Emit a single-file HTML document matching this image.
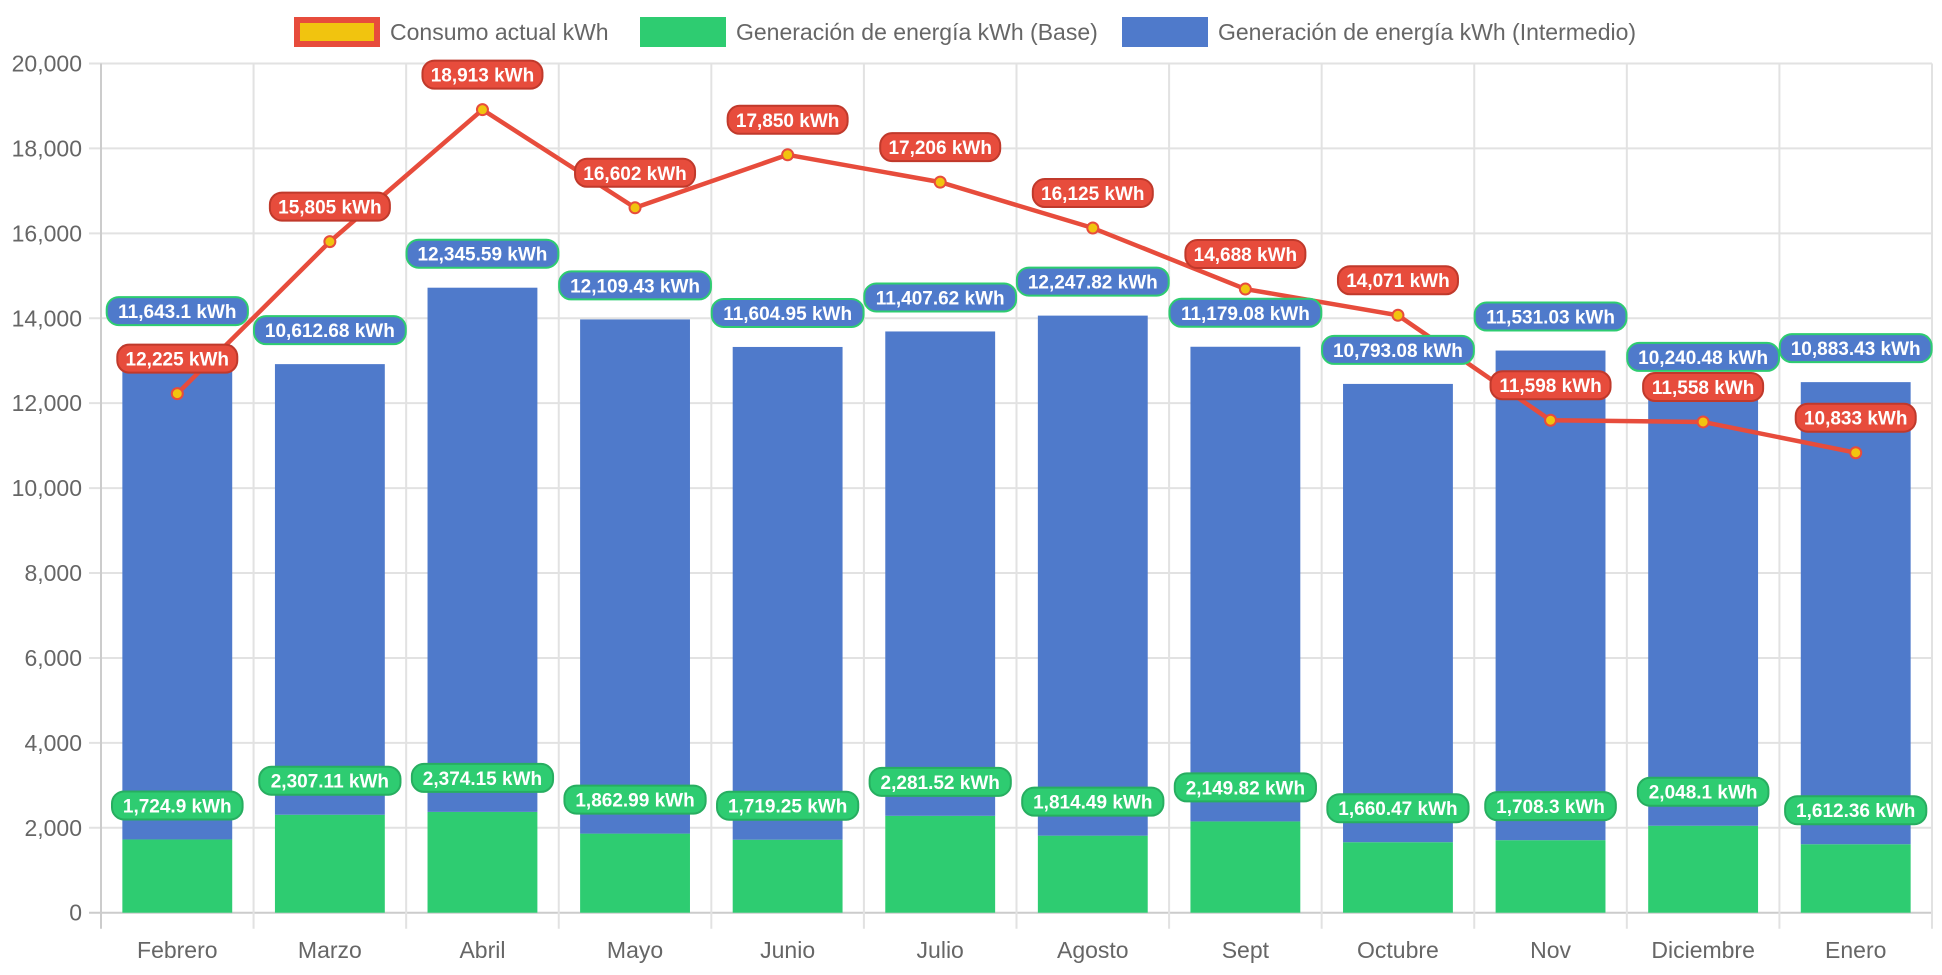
<!DOCTYPE html>
<html><head><meta charset="utf-8"><style>
body{margin:0;background:#fff;font-family:"Liberation Sans",Arial,sans-serif}
svg text{font-family:"Liberation Sans",Arial,sans-serif}
</style></head><body>
<svg id="c" width="1942" height="970"></svg>
<script>
const categories=["Febrero","Marzo","Abril","Mayo","Junio","Julio","Agosto","Sept","Octubre","Nov","Diciembre","Enero"];
const baseGen=[1724.9,2307.11,2374.15,1862.99,1719.25,2281.52,1814.49,2149.82,1660.47,1708.3,2048.1,1612.36];
const interGen=[11643.1,10612.68,12345.59,12109.43,11604.95,11407.62,12247.82,11179.08,10793.08,11531.03,10240.48,10883.43];
const consumo=[12225,15805,18913,16602,17850,17206,16125,14688,14071,11598,11558,10833];
const yTicks=[0,2000,4000,6000,8000,10000,12000,14000,16000,18000,20000];
const NS="http://www.w3.org/2000/svg";
const svg=document.getElementById('c');
const L=101,R=1932,T=63.5,B=912.7,yMax=20000;
const bw=(R-L)/categories.length;
const y=v=>B-v/yMax*(B-T);
const x=i=>L+bw*(i+0.5);
function mk(t,a,p){const e=document.createElementNS(NS,t);for(const k in a)e.setAttribute(k,a[k]);(p||svg).appendChild(e);return e;}
const fmt=v=>v.toLocaleString('en-US',{maximumFractionDigits:2})+' kWh';
yTicks.forEach(v=>{
 const g=mk('line',{x1:L-12,x2:R,y1:y(v),y2:y(v),stroke:v===0?'#ccc':'#e2e2e2','stroke-width':2});
 
 
 const t=mk('text',{x:L-19,y:y(v)+8,'text-anchor':'end','font-size':23,fill:'#666'});
 t.textContent=v.toLocaleString('en-US');
 
 
});
for(let i=0;i<=categories.length;i++){
 const g=mk('line',{x1:L+bw*i,x2:L+bw*i,y1:T,y2:B+16,stroke:i===0?'#ccc':'#e2e2e2','stroke-width':2});
 
 
}
categories.forEach((c,i)=>{
 const t=mk('text',{x:x(i),y:958,'text-anchor':'middle','font-size':23,fill:'#666'});
 t.textContent=c;
 
 
});
const barW=bw*0.72;
function pill(cx,cy,txt,bg,bd){
 const g=mk('g',{});
 
 
 const t=mk('text',{x:cx,y:cy+7,'text-anchor':'middle','font-size':19,'font-weight':'bold',fill:'#fff'},g);
 t.textContent=txt;
 const w=txt.length*10.6+14;
 const r=mk('rect',{x:cx-w/2,y:cy-14,width:w,height:28,rx:12,fill:bg,stroke:bd,'stroke-width':2});
 g.insertBefore(r,t);
}
const labels=[];
categories.forEach((c,i)=>{
 const b=mk('rect',{x:x(i)-barW/2,y:y(baseGen[i]),width:barW,height:B-y(baseGen[i]),fill:'#2ecc71'});
 
 
 const tot=baseGen[i]+interGen[i];
 const b2=mk('rect',{x:x(i)-barW/2,y:y(tot),width:barW,height:y(baseGen[i])-y(tot),fill:'#4f7acb'});
 
 
 labels.push([x(i),y(baseGen[i])-34,fmt(baseGen[i]),'#2ecc71','#27ae60']);
 labels.push([x(i),y(tot)-34,fmt(interGen[i]),'#4f7acb','#2ecc71']);
});
const pts=consumo.map((v,i)=>x(i)+','+y(v)).join(' ');
const ln=mk('polyline',{points:pts,fill:'none',stroke:'#e74c3c','stroke-width':4.5,'stroke-linejoin':'round'});


consumo.forEach((v,i)=>{
 const p=mk('circle',{cx:x(i),cy:y(v),r:5.5,fill:'#f1c40f',stroke:'#e74c3c','stroke-width':2});
 
 
 labels.push([x(i),y(v)-35,fmt(v),'#e74c3c','#c0392b']);
});
labels.forEach(l=>pill(...l));
const leg=[['Consumo actual kWh','#f1c40f','#e74c3c',294],['Generación de energía kWh (Base)','#2ecc71','#2ecc71',640],['Generación de energía kWh (Intermedio)','#4f7acb','#4f7acb',1122]];
leg.forEach(([t,f,s,lx])=>{
 const g=mk('g',{});
 
 
 mk('rect',{x:lx+3,y:20,width:80,height:24,fill:f,stroke:s,'stroke-width':6},g);
 const tx=mk('text',{x:lx+96,y:40,'font-size':23,fill:'#666'},g);
 tx.textContent=t;
});
</script>
</body></html>
